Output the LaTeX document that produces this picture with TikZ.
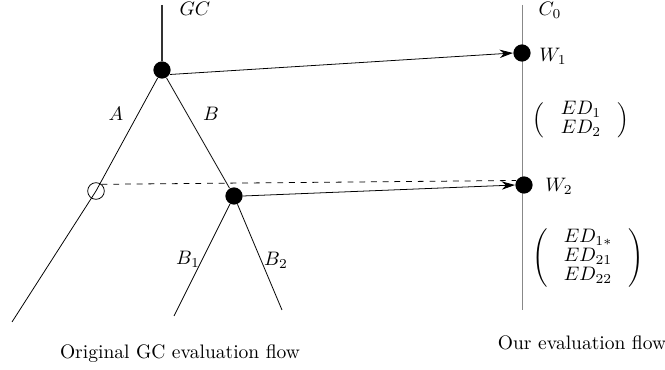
\documentclass[tikz,border=0pt]{standalone}
\usepackage{amsmath,amssymb}
\usepackage{tikz}
\usetikzlibrary{arrows.meta,positioning,calc}
\definecolor{ln}{HTML}{333333}
\definecolor{gr}{HTML}{888888}

\tikzset{
  dot/.style={circle,fill=black,inner sep=0pt,minimum size=0.31cm},
  hole/.style={circle,draw=black,thin,inner sep=0pt,minimum size=0.3cm},
  flow/.style={-{Stealth[length=2.4mm,width=1.5mm]},thin},
  lbl/.style={inner sep=0pt}
}

\begin{document}
\begin{tikzpicture}[x=0.018cm,y=-0.018cm]
  \useasboundingbox (0,0) rectangle (665,370);
  % LEFT: original GC tree
  \coordinate (gctop) at (162,5);
  \coordinate (aend) at (12,322);
  \coordinate (bonend) at (174,316);
  \coordinate (btwoend) at (282,310);
  \node[dot] (root) at (162,70) {};
  \node[hole] (dead) at (96,191) {};
  \node[dot] (bnode) at (234,196) {};
  \draw[ln,line width=0.9pt] (gctop) -- (root);
  \draw[thin] (root) -- (dead.center) -- (aend);
  \draw[thin] (root) -- (bnode);
  \draw[thin] (bnode) -- (bonend);
  \draw[thin] (bnode) -- (btwoend);
  \node[lbl] (gclbl) at (195,9) {$GC$};
  \node[lbl] (albl) at (116,114) {$A$};
  \node[lbl] (blbl) at (211,114) {$B$};
  \node[lbl] (bonelbl) at (188,259) {$B_1$};
  \node[lbl] (btwolbl) at (276,260) {$B_2$};
  \node (origcap) at (180,354) {Original GC evaluation flow};
  % RIGHT: our flow
  \coordinate (ctop) at (522,5);
  \coordinate (cbot) at (522,310);
  \draw[gr,thin] (ctop) -- (cbot);
  \node[dot] (wone) at (522,53) {};
  \node[dot] (wtwo) at (524,185) {};
  \node[lbl] (clbl) at (550,10) {$C_0$};
  \node[lbl] (wonelbl) at (553,56) {$W_1$};
  \node[lbl] (wtwolbl) at (559,186) {$W_2$};
  \node (edone) at (581,120)
    {$\renewcommand\arraystretch{0.8}\left(\ \begin{array}{c} ED_1\\ ED_2 \end{array}\ \right)$};
  \node (edtwo) at (588,258)
    {$\renewcommand\arraystretch{0.8}\left(\ \begin{array}{c} ED_{1*}\\ ED_{21}\\ ED_{22} \end{array}\ \right)$};
  \node (ourcap) at (582,343) {Our evaluation flow};
  % links between the flows
  \draw[flow] (root.-30) -- (wone.west);
  \draw[flow] (bnode.east) -- (wtwo.west);
  \draw[thin,dashed] (dead.50) -- (wtwo.150);
\end{tikzpicture}
\end{document}
